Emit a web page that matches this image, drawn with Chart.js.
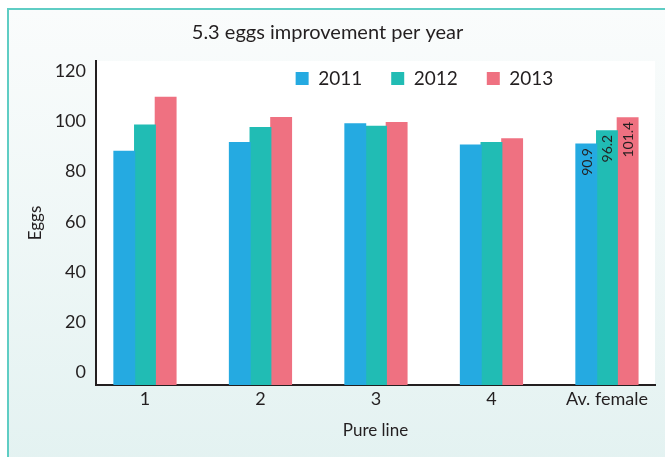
<!DOCTYPE html>
<html>
<head>
<meta charset="utf-8">
<script src="https://cdn.jsdelivr.net/npm/chart.js@4"></script>
<style>
  body { margin: 0; background: #fff; }
  #frame {
    position: absolute; left: 7px; top: 8px; width: 700px; height: 500px;
    border-left: 2px solid #5fcdc4; border-top: 2px solid #5fcdc4;
    background: linear-gradient(#fafcfc, #e1f1f0);
  }
  #wrap { position: absolute; left: 0; top: 0; width: 665px; height: 457px; }
</style>
</head>
<body>
<div id="frame"></div>
<div id="wrap"><canvas id="eggChart" width="665" height="457"></canvas></div>
<script>
// categories and values
const lines = ["1", "2", "3", "4", "Av. female"];
const years = ["2011", "2012", "2013"];
const eggs2011 = [88, 91.5, 99, 90.5, 90.9];
const eggs2012 = [98.5, 97.5, 98, 91.5, 96.2];
const eggs2013 = [109.5, 101.5, 99.5, 93, 101.4];
const yTicks = [0, 20, 40, 60, 80, 100, 120];
const labelIndex = 4; // only the average group gets value labels

const colors = ["#25aae1", "#21bcb4", "#ef7181"];
const dark = "#231f20";
const font = "Lato, 'Open Sans', sans-serif";
const yMin = -5; // the 0 label sits a little above the axis line

function toPoints(arr) {
  return arr.map(function (v, i) { return { x: i, y: v }; });
}

// white plot background
const plotBg = {
  id: "plotBg",
  beforeDraw: function (chart) {
    const a = chart.chartArea;
    chart.ctx.save();
    chart.ctx.fillStyle = "#ffffff";
    chart.ctx.fillRect(a.left, a.top, a.right - a.left, a.bottom - a.top);
    chart.ctx.restore();
  }
};

// legend takes no room in the layout and is drawn over the plot
const moveLegend = {
  id: "moveLegend",
  beforeLayout: function (chart) {
    const lg = chart.legend;
    if (lg && !lg._flat) {
      const fit = lg.fit;
      lg.fit = function () { fit.call(this); this.height = 1; };
      lg._flat = true;
    }
  },
  afterLayout: function (chart) {
    const lg = chart.legend;
    lg.left += 97; lg.right += 97;
    lg.top -= 20; lg.bottom = lg.top + 80;
  }
};

// rotated value labels on the last group
const valueLabels = {
  id: "valueLabels",
  afterDatasetsDraw: function (chart) {
    const ctx = chart.ctx;
    ctx.save();
    ctx.font = "14px " + font;
    ctx.fillStyle = dark;
    ctx.textAlign = "right";
    ctx.textBaseline = "middle";
    chart.data.datasets.forEach(function (ds, i) {
      const bar = chart.getDatasetMeta(i).data[labelIndex];
      const val = ds.data[labelIndex].y;
      ctx.save();
      ctx.translate(bar.x, bar.y + 4);
      ctx.rotate(-Math.PI / 2);
      ctx.fillText(val.toFixed(1), 0, 1);
      ctx.restore();
    });
    ctx.restore();
  }
};

new Chart(document.getElementById("eggChart"), {
  type: "bar",
  data: {
    datasets: [
      { label: years[0], data: toPoints(eggs2011), backgroundColor: colors[0], base: yMin },
      { label: years[1], data: toPoints(eggs2012), backgroundColor: colors[1], base: yMin },
      { label: years[2], data: toPoints(eggs2013), backgroundColor: colors[2], base: yMin }
    ]
  },
  options: {
    responsive: false,
    animation: false,
    categoryPercentage: 0.537,
    barPercentage: 1,
    inflateAmount: 0.6,
    layout: { padding: { left: 0, right: 10, top: 0, bottom: 0 } },
    plugins: {
      title: {
        display: true,
        text: "5.3 eggs improvement per year",
        color: dark,
        font: { family: font, size: 20, weight: "normal" },
        padding: { top: 21, bottom: 15 }
      },
      legend: {
        position: "top",
        align: "center",
        labels: {
          color: dark,
          font: { family: font, size: 19 },
          boxWidth: 13,
          boxHeight: 13,
          padding: 29
        }
      },
      tooltip: { enabled: false }
    },
    scales: {
      x: {
        type: "linear",
        offset: false,
        min: -0.424,
        max: 4.416,
        grid: { display: false, drawTicks: false },
        border: { display: true, color: dark, width: 2 },
        afterBuildTicks: function (axis) {
          axis.ticks = lines.map(function (l, i) { return { value: i }; });
        },
        afterFit: function (axis) { axis.height = 72; },
        ticks: {
          color: dark,
          font: { family: font, size: 18 },
          padding: 3,
          maxRotation: 0,
          autoSkip: false,
          callback: function (v) { return lines[v]; }
        },
        title: {
          display: true,
          text: "Pure line",
          color: dark,
          font: { family: font, size: 17 },
          padding: { top: 0, bottom: 16 }
        }
      },
      y: {
        min: yMin,
        max: 124,
        grid: { display: false, drawTicks: false },
        border: { display: true, color: dark, width: 2 },
        afterBuildTicks: function (axis) {
          axis.ticks = yTicks.map(function (v) { return { value: v }; });
        },
        afterFit: function (axis) { axis.width = 96; },
        ticks: {
          color: dark,
          font: { family: font, size: 18 },
          padding: 10
        },
        title: {
          display: true,
          text: "Eggs",
          color: dark,
          font: { family: font, size: 17 },
          padding: { top: 25, bottom: 0 }
        }
      }
    }
  },
  plugins: [plotBg, moveLegend, valueLabels]
});
</script>
</body>
</html>
